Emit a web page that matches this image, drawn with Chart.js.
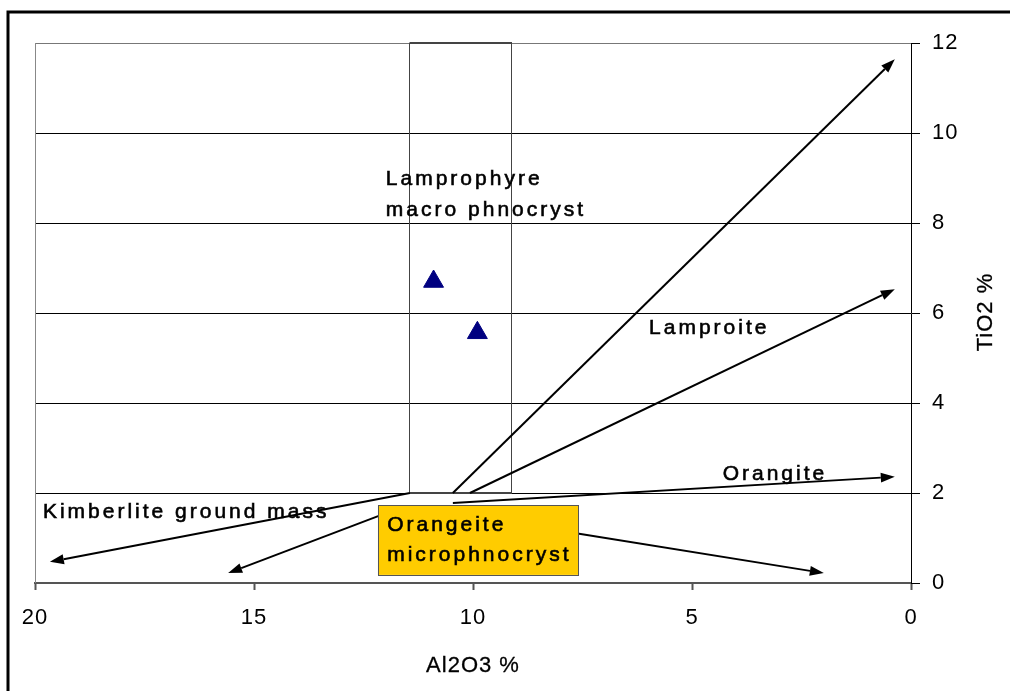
<!DOCTYPE html>
<html>
<head>
<meta charset="utf-8">
<script src="https://cdn.jsdelivr.net/npm/chart.js@4"></script>
<style>
  body { margin: 0; background: #fff; }
  canvas { display: block; }
</style>
</head>
<body>
<canvas id="chart" width="1010" height="691"></canvas>
<script>
// Sample points (Al2O3 %, TiO2 %)
const sampleAl2O3 = [10.9, 9.9];
const sampleTiO2 = [6.7, 5.56];

// Axis ticks
const xTickValues = [20, 15, 10, 5, 0];
const yTickValues = [0, 2, 4, 6, 8, 10, 12];

// Lamprophyre field (Al2O3 range, TiO2 range)
const fieldAl2O3 = [9.11, 11.45];
const fieldTiO2 = [2, 12];

// Trend arrows, in data units: start and end
const arrowStartAl2O3 = [10.46, 10.07, 11.44, 11.67, 10.46, 7.79];
const arrowStartTiO2 = [2.0, 2.0, 2.0, 1.67, 1.78, 1.13];
const arrowEndAl2O3 = [0.37, 0.37, 19.66, 15.59, 0.37, 1.99];
const arrowEndTiO2 = [11.64, 6.53, 0.47, 0.22, 2.36, 0.22];

// Text labels, anchored at their left baseline
const labelText = ['Lamprophyre', 'macro phnocryst', 'Lamproite', 'Orangite', 'Kimberlite ground mass'];
const labelAl2O3 = [11.99, 11.99, 5.98, 4.30, 19.82];
const labelTiO2 = [8.84, 8.16, 5.53, 2.29, 1.44];

// Orangeite microphnocryst callout box
const calloutText = ['Orangeite', 'microphnocryst'];
const calloutAl2O3 = [12.17, 7.60];
const calloutTiO2 = [1.73, 0.18];
const calloutTextAl2O3 = 11.96;
const calloutTextTiO2 = [1.16, 0.49];

const FONT = '"Liberation Sans", Arial, sans-serif';

function drawArrow(ctx, x1, y1, x2, y2) {
    const ang = Math.atan2(y2 - y1, x2 - x1);
    const headLen = 14, headHalf = 5;
    const bx = x2 - Math.cos(ang) * headLen;
    const by = y2 - Math.sin(ang) * headLen;
    ctx.beginPath();
    ctx.moveTo(x1, y1);
    ctx.lineTo(bx, by);
    ctx.stroke();
    ctx.beginPath();
    ctx.moveTo(x2, y2);
    ctx.lineTo(bx - Math.sin(ang) * headHalf, by + Math.cos(ang) * headHalf);
    ctx.lineTo(bx + Math.sin(ang) * headHalf, by - Math.cos(ang) * headHalf);
    ctx.closePath();
    ctx.fill();
}

// text with a thin outline, the reference type is a bit heavy
function heavyText(ctx, t, x, y) {
    ctx.fillText(t, x, y);
    ctx.strokeText(t, x, y);
}

const annotations = {
    id: 'annotations',
    beforeDraw(chart) {
        chart.ctx.letterSpacing = '1px';
    },
    afterDraw(chart) {
        const ctx = chart.ctx;
        const xs = chart.scales.x, ys = chart.scales.y;
        const area = chart.chartArea;
        ctx.save();

        // outer frame
        ctx.strokeStyle = '#000';
        ctx.lineWidth = 3;
        ctx.beginPath();
        ctx.moveTo(8, 700);
        ctx.lineTo(8, 12);
        ctx.lineTo(1020, 12);
        ctx.stroke();

        // plot area left edge
        ctx.strokeStyle = '#888';
        ctx.lineWidth = 1;
        ctx.beginPath();
        ctx.moveTo(area.left + 0.5, area.top);
        ctx.lineTo(area.left + 0.5, area.bottom);
        ctx.stroke();

        // lamprophyre field
        const fl = xs.getPixelForValue(fieldAl2O3[1]);
        const fr = xs.getPixelForValue(fieldAl2O3[0]);
        const ft = ys.getPixelForValue(fieldTiO2[1]);
        const fb = ys.getPixelForValue(fieldTiO2[0]);
        ctx.strokeStyle = '#444';
        ctx.lineWidth = 1;
        ctx.strokeRect(Math.round(fl) + 0.5, Math.round(ft) + 0.5, Math.round(fr - fl), Math.round(fb - ft));
        ctx.lineWidth = 2;
        ctx.beginPath();
        ctx.moveTo(fl, fb);
        ctx.lineTo(fr, fb);
        ctx.moveTo(fl, ft);
        ctx.lineTo(fr, ft);
        ctx.stroke();

        // arrows
        ctx.strokeStyle = '#000';
        ctx.fillStyle = '#000';
        ctx.lineWidth = 2;
        for (let i = 0; i < arrowStartAl2O3.length; i++) {
            drawArrow(ctx,
                xs.getPixelForValue(arrowStartAl2O3[i]), ys.getPixelForValue(arrowStartTiO2[i]),
                xs.getPixelForValue(arrowEndAl2O3[i]), ys.getPixelForValue(arrowEndTiO2[i]));
        }

        // labels
        ctx.font = '21px ' + FONT;
        ctx.letterSpacing = '3px';
        ctx.textAlign = 'left';
        ctx.textBaseline = 'alphabetic';
        ctx.fillStyle = '#000';
        ctx.strokeStyle = '#000';
        ctx.lineWidth = 0.6;
        labelText.forEach((t, i) => {
            heavyText(ctx, t, xs.getPixelForValue(labelAl2O3[i]), ys.getPixelForValue(labelTiO2[i]));
        });

        // callout box
        const bl = xs.getPixelForValue(calloutAl2O3[0]);
        const br = xs.getPixelForValue(calloutAl2O3[1]);
        const bt = ys.getPixelForValue(calloutTiO2[0]);
        const bb = ys.getPixelForValue(calloutTiO2[1]);
        ctx.fillStyle = '#FFCC00';
        ctx.fillRect(bl, bt, br - bl, bb - bt);
        ctx.strokeStyle = '#555';
        ctx.lineWidth = 1;
        ctx.strokeRect(Math.round(bl) + 0.5, Math.round(bt) + 0.5, Math.round(br - bl), Math.round(bb - bt));
        ctx.fillStyle = '#000';
        ctx.strokeStyle = '#000';
        ctx.lineWidth = 0.6;
        calloutText.forEach((t, i) => {
            heavyText(ctx, t, xs.getPixelForValue(calloutTextAl2O3), ys.getPixelForValue(calloutTextTiO2[i]));
        });

        // axis titles
        ctx.font = '22px ' + FONT;
        ctx.letterSpacing = '1px';
        ctx.textAlign = 'center';
        ctx.lineWidth = 0.3;
        heavyText(ctx, 'Al2O3 %', (area.left + area.right) / 2, 672);
        ctx.translate(992, 312);
        ctx.rotate(-Math.PI / 2);
        heavyText(ctx, 'TiO2 %', 0, 0);
        ctx.restore();
    }
};

new Chart(document.getElementById('chart'), {
    type: 'scatter',
    data: {
        datasets: [{
            label: 'Samples',
            data: sampleAl2O3.map((x, i) => ({ x: x, y: sampleTiO2[i] })),
            pointStyle: 'triangle',
            pointRadius: 11.5,
            pointHoverRadius: 11.5,
            backgroundColor: '#000080',
            borderColor: '#000080',
            borderWidth: 1
        }]
    },
    options: {
        responsive: false,
        animation: false,
        devicePixelRatio: 1,
        layout: { padding: { left: 35, top: 43, right: 0, bottom: 0 } },
        plugins: {
            legend: { display: false },
            tooltip: { enabled: false }
        },
        scales: {
            x: {
                type: 'linear',
                reverse: true,
                min: 0,
                max: 20,
                afterFit: s => { s.height = 108; },
                afterBuildTicks: s => { s.ticks = xTickValues.map(v => ({ value: v })); },
                ticks: {
                    color: '#000',
                    font: { family: FONT, size: 22 },
                    padding: 15,
                    maxRotation: 0
                },
                grid: {
                    drawOnChartArea: false,
                    drawTicks: true,
                    tickLength: 7,
                    tickColor: '#555',
                    tickWidth: 2
                },
                border: { color: '#555', width: 2 }
            },
            y: {
                type: 'linear',
                position: 'right',
                min: 0,
                max: 12,
                afterFit: s => { s.width = 99; },
                afterBuildTicks: s => { s.ticks = yTickValues.map(v => ({ value: v })); },
                ticks: {
                    color: '#000',
                    font: { family: FONT, size: 22 },
                    padding: 12
                },
                grid: {
                    color: ctx => (ctx.tick && ctx.tick.value === 12) ? '#777' : '#000',
                    tickColor: '#000',
                    tickLength: 9,
                    lineWidth: 1
                },
                border: { color: '#000', width: 1 }
            }
        }
    },
    plugins: [annotations]
});
</script>
</body>
</html>
